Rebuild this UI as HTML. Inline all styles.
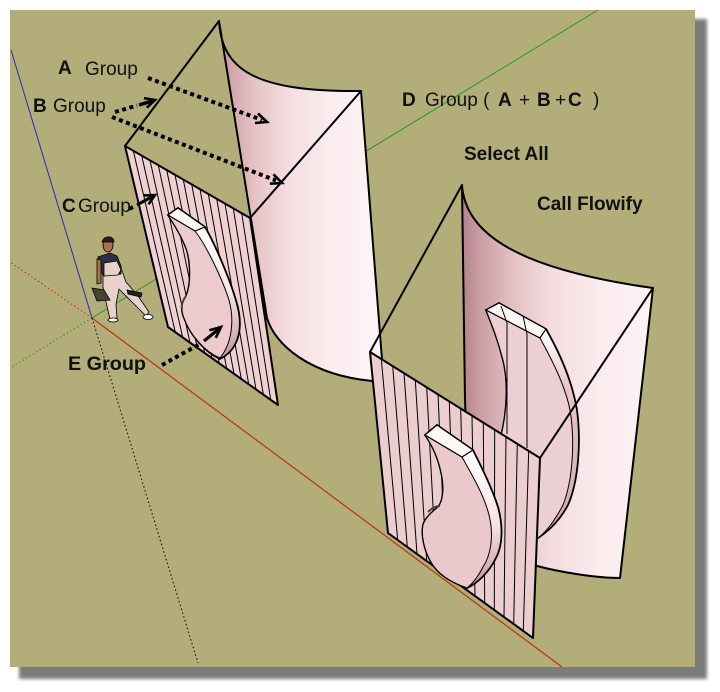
<!DOCTYPE html>
<html><head><meta charset="utf-8"><style>
html,body{margin:0;padding:0;background:#fff;}
svg{display:block;}
text{font-family:"Liberation Sans",Arial,sans-serif;fill:#111;}
.b{font-weight:bold;}
</style></head><body>
<svg width="720" height="692" viewBox="0 0 720 692" xmlns="http://www.w3.org/2000/svg">
<defs>
 <filter id="bl" x="-5%" y="-5%" width="110%" height="110%"><feGaussianBlur stdDeviation="1.6"/></filter>
 <linearGradient id="s1" gradientUnits="userSpaceOnUse" x1="219" y1="0" x2="384" y2="0">
  <stop offset="0" stop-color="#c08f95"/><stop offset="0.08" stop-color="#d3a7ac"/>
  <stop offset="0.22" stop-color="#e6c3c6"/><stop offset="0.42" stop-color="#f4dde0"/>
  <stop offset="0.68" stop-color="#fbecee"/><stop offset="1" stop-color="#fff5f6"/>
 </linearGradient>
 <linearGradient id="s2" gradientUnits="userSpaceOnUse" x1="462" y1="0" x2="653" y2="0">
  <stop offset="0" stop-color="#b4828a"/><stop offset="0.1" stop-color="#cc9fa4"/>
  <stop offset="0.26" stop-color="#e3bfc2"/><stop offset="0.46" stop-color="#f3dbde"/>
  <stop offset="0.72" stop-color="#fbecee"/><stop offset="1" stop-color="#fff3f4"/>
 </linearGradient>
 <linearGradient id="band1" gradientUnits="userSpaceOnUse" x1="0" y1="225" x2="0" y2="358">
  <stop offset="0" stop-color="#ffffff"/><stop offset="0.5" stop-color="#f7e6e8"/><stop offset="1" stop-color="#c6959b"/>
 </linearGradient>
 <linearGradient id="band2" gradientUnits="userSpaceOnUse" x1="0" y1="330" x2="0" y2="530">
  <stop offset="0" stop-color="#ffffff"/><stop offset="0.3" stop-color="#e6c5c8"/><stop offset="1" stop-color="#d3a8ad"/>
 </linearGradient>
 <linearGradient id="band3" gradientUnits="userSpaceOnUse" x1="0" y1="448" x2="0" y2="585">
  <stop offset="0" stop-color="#ffffff"/><stop offset="0.55" stop-color="#f6e4e6"/><stop offset="1" stop-color="#c8979d"/>
 </linearGradient>
</defs>

<rect width="720" height="692" fill="#fff"/>
<rect x="19" y="19" width="688" height="660" fill="#7c7c7c" filter="url(#bl)"/>
<rect x="10" y="10" width="685" height="657" fill="#b2ad79"/>

<!-- axes -->
<line x1="11" y1="50" x2="92" y2="318" stroke="#2a2ab8" stroke-width="1"/>
<line x1="92" y1="318" x2="562" y2="667" stroke="#c2300e" stroke-width="1.2"/>
<line x1="92" y1="318" x2="598" y2="10" stroke="#1f9a1f" stroke-width="1"/>
<line x1="92" y1="318" x2="10" y2="262" stroke="#c2300e" stroke-width="1" stroke-dasharray="1.5 2.5"/>
<line x1="92" y1="318" x2="10" y2="368" stroke="#1f9a1f" stroke-width="1" stroke-dasharray="1.5 2.5"/>
<line x1="92" y1="318" x2="198" y2="663" stroke="#111" stroke-width="1.1" stroke-dasharray="1.5 2.5"/>

<!-- curved surface 1 -->
<path d="M219,21 C222,70 255,92 361,91 L384,385 L372,381 C310,375 275,345 267,318 Z" fill="url(#s1)" stroke="#000" stroke-width="2" stroke-linejoin="round"/>
<!-- curved surface 2 -->
<path d="M462,185 C465,230 510,268 653,288 L620,578 C595,578 560,572 537,566 L470,540 L465,400 Z" fill="url(#s2)" stroke="#000" stroke-width="2" stroke-linejoin="round"/>

<!-- E2 on curved surface 2 -->
<path d="M486,310 L499,303 L546,329 C558,350 572,380 577,410 C581,440 579,480 568,505 C560,520 550,530 538,538 L500,440 C508,410 508,380 503,360 C498,340 492,325 486,310 Z" fill="url(#band2)" stroke="#000" stroke-width="1.8"/>
<path d="M486,310 L540,338 C552,360 565,385 570,410 C575,440 573,480 563,505 C555,520 548,530 538,538 L500,440 C508,410 508,380 503,360 C498,340 492,325 486,310 Z" fill="#eccfd2" stroke="#000" stroke-width="1"/>
<polygon points="486,310 499,303 546,329 540,338" fill="#fff8f8" stroke="#000" stroke-width="1.2"/>
<line x1="507" y1="323" x2="507" y2="434" stroke="#000" stroke-width="1"/>
<line x1="527" y1="334" x2="527" y2="448" stroke="#000" stroke-width="1"/>
<line x1="507" y1="323" x2="501" y2="306" stroke="#000" stroke-width="1"/>
<line x1="527" y1="334" x2="523" y2="316" stroke="#000" stroke-width="1"/>

<!-- triangle outlines -->
<g stroke="#000" stroke-width="2" fill="none" stroke-linecap="round">
 <line x1="219" y1="21" x2="125" y2="146"/>
 <line x1="250" y1="218" x2="361" y2="91"/>
 <line x1="462" y1="185" x2="370" y2="352"/>
 <line x1="653" y1="288" x2="540" y2="458"/>
</g>

<!-- panel C -->
<polygon points="125,146 250,218 278,405 168,327" fill="#efd1d3"/>
<g stroke="#000" stroke-width="1">
 <line x1="133.3" y1="150.8" x2="175.3" y2="332.2"/>
 <line x1="141.7" y1="155.6" x2="182.7" y2="337.4"/>
 <line x1="150" y1="160.4" x2="190" y2="342.6"/>
 <line x1="158.3" y1="165.2" x2="197.3" y2="347.8"/>
 <line x1="166.7" y1="170" x2="204.7" y2="353"/>
 <line x1="175" y1="174.8" x2="212" y2="358.2"/>
 <line x1="183.3" y1="179.6" x2="219.3" y2="363.4"/>
 <line x1="191.7" y1="184.4" x2="226.7" y2="368.6"/>
 <line x1="200" y1="189.2" x2="234" y2="373.8"/>
 <line x1="208.3" y1="194" x2="241.3" y2="379"/>
 <line x1="216.7" y1="198.8" x2="248.7" y2="384.2"/>
 <line x1="225" y1="203.6" x2="256" y2="389.4"/>
 <line x1="233.3" y1="208.4" x2="263.3" y2="394.6"/>
 <line x1="241.7" y1="213.2" x2="270.7" y2="399.8"/>
</g>
<polygon points="125,146 250,218 278,405 168,327" fill="none" stroke="#000" stroke-width="2" stroke-linejoin="round"/>

<!-- E1 -->
<path d="M168,215 L178,208 L205,227 C214,242 232,283 238,308 C243,330 238,350 220,359 C205,352 190,335 184,318 C180,308 182,302 186,296 C191,285 191,262 186,248 C181,235 174,224 168,215 Z" fill="url(#band1)" stroke="#000" stroke-width="1.8"/>
<path d="M168,215 L195,231 C206,245 222,278 229,300 C234,318 233,342 220,358 C205,352 190,335 184,318 C180,308 182,302 186,296 C191,285 191,262 186,248 C181,235 174,224 168,215 Z" fill="#eccacd" stroke="#000" stroke-width="1"/>
<polygon points="168,215 178,208 205,227 195,231" fill="#fff8f8" stroke="#000" stroke-width="1.2"/>
<path d="M186,296 C183,300 181,304 182,309" stroke="#5a3a3a" stroke-width="2" fill="none"/>

<!-- panel 2 -->
<polygon points="370,352 540,458 533,638 388,533" fill="#eccdd0"/>
<g stroke="#000" stroke-width="1">
 <line x1="381.3" y1="359.1" x2="397.7" y2="540"/>
 <line x1="392.7" y1="366.1" x2="407.3" y2="547"/>
 <line x1="404" y1="373.2" x2="417" y2="554"/>
 <line x1="415.3" y1="380.3" x2="426.7" y2="561"/>
 <line x1="426.7" y1="387.3" x2="436.3" y2="568"/>
 <line x1="438" y1="394.4" x2="446" y2="575"/>
 <line x1="449.3" y1="401.5" x2="455.7" y2="582"/>
 <line x1="460.7" y1="408.5" x2="465.3" y2="589"/>
 <line x1="472" y1="415.6" x2="475" y2="596"/>
 <line x1="483.3" y1="422.7" x2="484.7" y2="603"/>
 <line x1="494.7" y1="429.7" x2="494.3" y2="610"/>
 <line x1="506" y1="436.8" x2="504" y2="617"/>
 <line x1="517.3" y1="443.9" x2="513.7" y2="624"/>
 <line x1="528.7" y1="450.9" x2="523.3" y2="631"/>
</g>
<polygon points="370,352 540,458 533,638 388,533" fill="none" stroke="#000" stroke-width="2" stroke-linejoin="round"/>

<!-- E3 -->
<path d="M425,435 L437,425 L473,450 C482,468 492,488 498,507 C503,525 503,545 496,558 C489,572 478,583 467,588 C450,582 437,573 431,562 C424,550 421,535 423,525 C425,518 432,512 438,507 C444,500 444,485 441,472 C438,458 432,445 425,435 Z" fill="url(#band3)" stroke="#000" stroke-width="1.8"/>
<path d="M425,435 L462,457 C472,475 484,495 489,515 C494,535 491,555 483,567 C478,577 472,584 467,588 C450,582 437,573 431,562 C424,550 421,535 423,525 C425,518 432,512 438,507 C444,500 444,485 441,472 C438,458 432,445 425,435 Z" fill="#ebc8cb" stroke="#000" stroke-width="1"/>
<polygon points="425,435 437,425 473,450 462,457" fill="#fff8f8" stroke="#000" stroke-width="1.2"/>
<path d="M428,512 C432,508 436,506 440,506" stroke="#5a3a3a" stroke-width="2" fill="none"/>

<!-- person -->
<g stroke="#000" stroke-width="0.8">
 <path d="M103,272 L121,268 L126,282 L138,296 L149,312 L146,316 L132,302 L119,289 L116,304 L117,318 L110,319 L106,302 L103,287 Z" fill="#e7d2cb"/>
 <path d="M98,257 L110,253 L117,256 L121,266 L121,274 L104,276 L99,270 Z" fill="#2d3044"/>
 <path d="M104,263 L117,261 L121,270 L118,275 L104,276 Z" fill="#e7d2cb"/>
 <path d="M97,259 L101,260 L101,283 L97,284 Z" fill="#a8714f"/>
 <ellipse cx="108" cy="245" rx="5" ry="7" fill="#a8714f"/>
 <path d="M102,242 Q104,236 110,237 Q114,238 114,242 Z" fill="#2a1d16"/>
 <path d="M92,288 L104,290 L110,300 L97,301 Z" fill="#4a4232"/>
 <path d="M127,290 L142,293 L141,297 L128,294 Z" fill="#222"/>
 <ellipse cx="113" cy="320" rx="5" ry="2" fill="#fff"/>
 <ellipse cx="148" cy="317" rx="5" ry="2.5" fill="#fff"/>
</g>

<!-- arrows -->
<g stroke="#000" fill="none">
 <line x1="148" y1="78" x2="262" y2="120" stroke-width="4" stroke-dasharray="4 3.5"/>
 <path d="M255,123 L267,122 L258,113.5" stroke-width="2.6" stroke-linejoin="miter"/>
 <line x1="115" y1="112" x2="137" y2="105.5" stroke-width="4" stroke-dasharray="4 3.5"/>
 <line x1="139" y1="105" x2="154" y2="100.3" stroke-width="3.5"/>
 <path d="M146.8,107.7 L155,100 L144,98.1" stroke-width="2.6"/>
 <line x1="112" y1="117" x2="276" y2="180.5" stroke-width="4" stroke-dasharray="4 3.5"/>
 <path d="M269.9,183.7 L282,183 L273.5,174.3" stroke-width="2.6"/>
 <line x1="129" y1="209" x2="133" y2="207" stroke-width="4"/>
 <line x1="137" y1="205" x2="154" y2="195.5" stroke-width="3.2"/>
 <path d="M148.6,204.2 L155,195 L143.8,195.4" stroke-width="2.6"/>
 <line x1="162" y1="365" x2="200" y2="344" stroke-width="4" stroke-dasharray="4 3.5"/>
 <line x1="204" y1="341" x2="220" y2="328" stroke-width="3.2"/>
 <path d="M215.8,337.8 L221,327 L209.4,330.2" stroke-width="2.6"/>
</g>

<!-- labels -->
<text x="58" y="74" font-size="19" class="b">A</text>
<text x="85" y="75" font-size="19">Group</text>
<text x="33" y="112" font-size="19" class="b">B</text>
<text x="53" y="112" font-size="19">Group</text>
<text x="62" y="212" font-size="19" class="b">C</text>
<text x="78" y="212" font-size="19">Group</text>
<text x="402" y="106" font-size="19" class="b">D</text>
<text x="425" y="106" font-size="19">Group (</text>
<text x="498" y="106" font-size="19" class="b">A</text>
<text x="519" y="106" font-size="19">+</text>
<text x="537" y="106" font-size="19" class="b">B</text>
<text x="555" y="106" font-size="19">+</text>
<text x="568" y="106" font-size="19" class="b">C</text>
<text x="593" y="106" font-size="19">)</text>
<text x="464" y="160" font-size="19" class="b">Select All</text>
<text x="537" y="210" font-size="19" class="b">Call Flowify</text>
<text x="68" y="370" font-size="19.5" class="b" textLength="78" lengthAdjust="spacingAndGlyphs">E Group</text>
</svg>
</body></html>
